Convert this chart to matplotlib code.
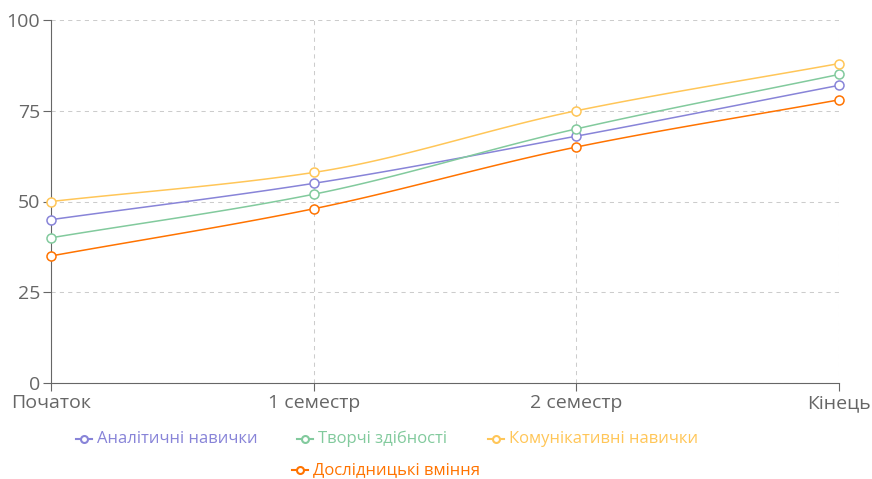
import numpy as np
import matplotlib
matplotlib.use("Agg")
import matplotlib.pyplot as plt
from matplotlib.lines import Line2D

CATEGORIES = ["Початок", "1 семестр", "2 семестр", "Кінець"]
SERIES = ["Аналітичні навички", "Творчі здібності", "Комунікативні навички", "Дослідницькі вміння"]
ANALYTIC = [45, 55, 68, 82]
CREATIVE = [40, 52, 70, 85]
COMMUNIC = [50, 58, 75, 88]
RESEARCH = [35, 48, 65, 78]
COLORS = ["#8884d8", "#82ca9d", "#ffc658", "#ff7300"]
YTICKS = [0, 25, 50, 75, 100]

plt.rcParams["font.family"] = ["Open Sans", "DejaVu Sans"]


def monotone(x, y, n=40):
    # Fritsch-Carlson monotone cubic, like recharts "monotone"
    x = np.asarray(x, float)
    y = np.asarray(y, float)
    h = np.diff(x)
    d = np.diff(y) / h
    m = np.zeros_like(y)
    m[0], m[-1] = d[0], d[-1]
    for i in range(1, len(y) - 1):
        if d[i - 1] * d[i] <= 0:
            m[i] = 0
        else:
            m[i] = 3 * (h[i - 1] + h[i]) / ((2 * h[i] + h[i - 1]) / d[i - 1] + (h[i] + 2 * h[i - 1]) / d[i])
    xs, ys = [], []
    for i in range(len(x) - 1):
        t = np.linspace(0, 1, n)
        h00 = 2 * t**3 - 3 * t**2 + 1
        h10 = t**3 - 2 * t**2 + t
        h01 = -2 * t**3 + 3 * t**2
        h11 = t**3 - t**2
        xs.append(x[i] + t * h[i])
        ys.append(h00 * y[i] + h10 * h[i] * m[i] + h01 * y[i + 1] + h11 * h[i] * m[i + 1])
    return np.concatenate(xs), np.concatenate(ys)


W, H = 872, 479
fig = plt.figure(figsize=(W / 100, H / 100), dpi=100)
ax = fig.add_axes([51 / W, 1 - 383 / H, (839 - 51) / W, (383 - 20) / H])

xpos = np.arange(len(CATEGORIES))
for vals, col in zip([ANALYTIC, CREATIVE, COMMUNIC, RESEARCH], COLORS):
    sx, sy = monotone(xpos, vals)
    ax.plot(sx, sy, color=col, lw=1.1, zorder=3, clip_on=False)
    ax.plot(xpos, vals, "o", ms=6.5, mfc="white", mec=col, mew=1.1, zorder=4, clip_on=False)

ax.set_xlim(0, len(CATEGORIES) - 1)
ax.set_ylim(0, 100)
ax.set_xticks(xpos)
ax.set_xticklabels(CATEGORIES)
ax.set_yticks(YTICKS)
ax.grid(True, color="#cccccc", ls=(0, (4, 4)), lw=0.75)
ax.set_axisbelow(True)
for s in ["top", "right"]:
    ax.spines[s].set_visible(False)
for s in ["left", "bottom"]:
    ax.spines[s].set_color("#666666")
    ax.spines[s].set_linewidth(0.8)
ax.tick_params(colors="#666666", labelsize=14, length=6, width=0.8, pad=2,
               labelcolor="#666666")

# legend drawn by hand (two rows, centred)
legend_rows = [
    [(0, 76, 439), (1, 297, 439), (2, 488, 439)],
    [(3, 292, 470)],
]
for row in legend_rows:
    for idx, px, py in row:
        fx, fy = px / W, 1 - py / H
        fig.add_artist(Line2D([fx, fx + 16 / W], [fy, fy], color=COLORS[idx], lw=1.5,
                              transform=fig.transFigure))
        fig.add_artist(Line2D([fx + 8 / W], [fy], marker="o", ms=5, mfc="white",
                              mec=COLORS[idx], mew=1.5, transform=fig.transFigure))
        fig.text(fx + 21 / W, fy, SERIES[idx], color=COLORS[idx], fontsize=12,
                 ha="left", va="center")

fig.savefig("out.png", dpi=100, facecolor="white")
